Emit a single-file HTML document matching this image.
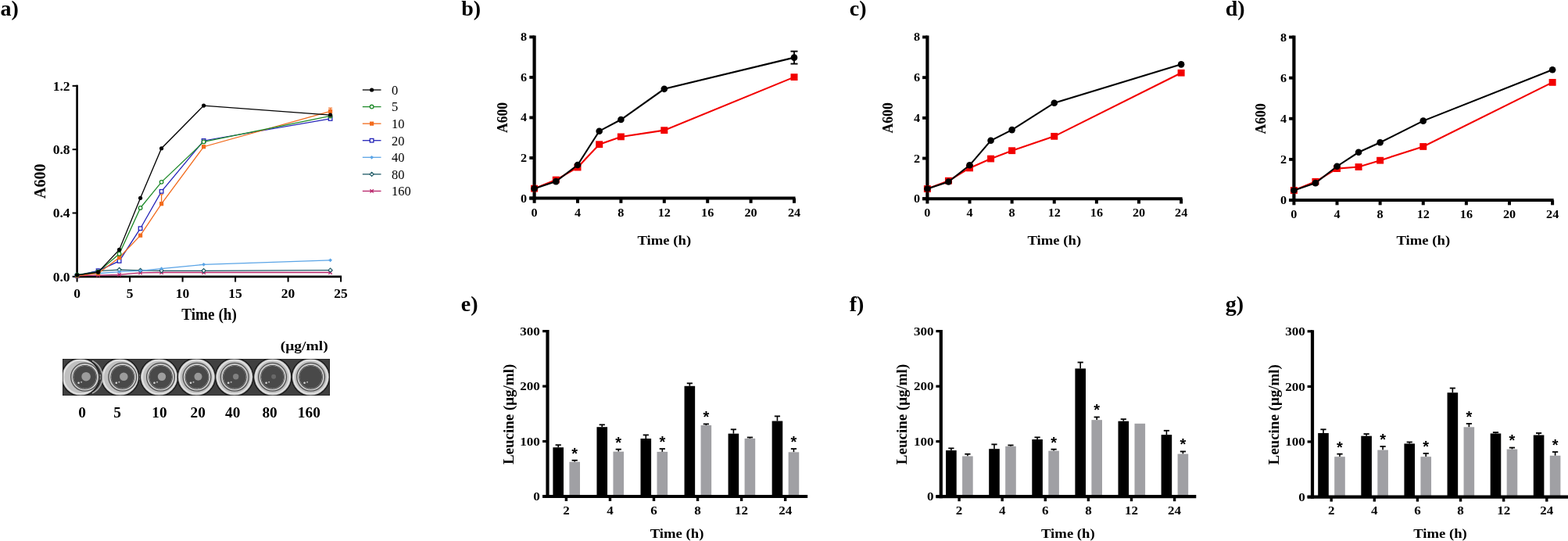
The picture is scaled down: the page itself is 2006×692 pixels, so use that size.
<!DOCTYPE html>
<html><head><meta charset="utf-8"><title>Figure</title>
<style>
html,body{margin:0;padding:0;background:#fff;}
body{width:2006px;height:692px;overflow:hidden;}
svg{display:block;}
text{font-family:'Liberation Serif','Times New Roman',serif;fill:#000;}
</style></head><body>
<svg width="2006" height="692" viewBox="0 0 2006 692">
<rect width="2006" height="692" fill="#fff"/>
<text x="0.50" y="20.30" font-size="28" text-anchor="start" font-weight="bold">a)</text>
<text x="590.30" y="20.30" font-size="28" text-anchor="start" font-weight="bold">b)</text>
<text x="1086.80" y="20.30" font-size="28" text-anchor="start" font-weight="bold">c)</text>
<text x="1567.80" y="20.30" font-size="28" text-anchor="start" font-weight="bold">d)</text>
<text x="589.80" y="397.80" font-size="28" text-anchor="start" font-weight="bold">e)</text>
<text x="1086.80" y="397.80" font-size="28" text-anchor="start" font-weight="bold">f)</text>
<text x="1567.80" y="397.80" font-size="28" text-anchor="start" font-weight="bold">g)</text>
<line x1="98.60" y1="108.69" x2="98.60" y2="355.15" stroke="#000" stroke-width="2.7" stroke-linecap="butt"/>
<line x1="97.25" y1="353.80" x2="437.10" y2="353.80" stroke="#000" stroke-width="2.7" stroke-linecap="butt"/>
<line x1="92.60" y1="353.80" x2="98.60" y2="353.80" stroke="#000" stroke-width="2" stroke-linecap="butt"/>
<text x="89.60" y="359.70" font-size="17.5" text-anchor="end" font-weight="bold">0.0</text>
<line x1="92.60" y1="272.48" x2="98.60" y2="272.48" stroke="#000" stroke-width="2" stroke-linecap="butt"/>
<text x="89.60" y="278.38" font-size="17.5" text-anchor="end" font-weight="bold">0.4</text>
<line x1="92.60" y1="191.16" x2="98.60" y2="191.16" stroke="#000" stroke-width="2" stroke-linecap="butt"/>
<text x="89.60" y="197.06" font-size="17.5" text-anchor="end" font-weight="bold">0.8</text>
<line x1="92.60" y1="109.84" x2="98.60" y2="109.84" stroke="#000" stroke-width="2" stroke-linecap="butt"/>
<text x="89.60" y="115.74" font-size="17.5" text-anchor="end" font-weight="bold">1.2</text>
<line x1="98.60" y1="353.80" x2="98.60" y2="360.60" stroke="#000" stroke-width="2" stroke-linecap="butt"/>
<text x="98.60" y="381.00" font-size="17.5" text-anchor="middle" font-weight="bold">0</text>
<line x1="166.10" y1="353.80" x2="166.10" y2="360.60" stroke="#000" stroke-width="2" stroke-linecap="butt"/>
<text x="166.10" y="381.00" font-size="17.5" text-anchor="middle" font-weight="bold">5</text>
<line x1="233.60" y1="353.80" x2="233.60" y2="360.60" stroke="#000" stroke-width="2" stroke-linecap="butt"/>
<text x="233.60" y="381.00" font-size="17.5" text-anchor="middle" font-weight="bold">10</text>
<line x1="301.10" y1="353.80" x2="301.10" y2="360.60" stroke="#000" stroke-width="2" stroke-linecap="butt"/>
<text x="301.10" y="381.00" font-size="17.5" text-anchor="middle" font-weight="bold">15</text>
<line x1="368.60" y1="353.80" x2="368.60" y2="360.60" stroke="#000" stroke-width="2" stroke-linecap="butt"/>
<text x="368.60" y="381.00" font-size="17.5" text-anchor="middle" font-weight="bold">20</text>
<line x1="436.10" y1="353.80" x2="436.10" y2="360.60" stroke="#000" stroke-width="2" stroke-linecap="butt"/>
<text x="436.10" y="381.00" font-size="17.5" text-anchor="middle" font-weight="bold">25</text>
<text transform="translate(58.00,231.80) rotate(-90)" font-size="20" text-anchor="middle" font-weight="bold">A600</text>
<text transform="translate(267.60,408.80) scale(0.96,1)" font-size="20" text-anchor="middle" font-weight="bold">Time (h)</text>
<polyline points="98.60,352.78 125.60,352.17 152.60,351.36 179.60,348.92 206.60,348.51 260.60,348.51 422.60,348.51" fill="none" stroke="#b8246a" stroke-width="1.3"/>
<path d="M96.40 350.58L100.80 354.98M96.40 354.98L100.80 350.58" stroke="#b8246a" stroke-width="1.3" fill="none"/>
<path d="M123.40 349.97L127.80 354.37M123.40 354.37L127.80 349.97" stroke="#b8246a" stroke-width="1.3" fill="none"/>
<path d="M150.40 349.16L154.80 353.56M150.40 353.56L154.80 349.16" stroke="#b8246a" stroke-width="1.3" fill="none"/>
<path d="M177.40 346.72L181.80 351.12M177.40 351.12L181.80 346.72" stroke="#b8246a" stroke-width="1.3" fill="none"/>
<path d="M204.40 346.31L208.80 350.71M204.40 350.71L208.80 346.31" stroke="#b8246a" stroke-width="1.3" fill="none"/>
<path d="M258.40 346.31L262.80 350.71M258.40 350.71L262.80 346.31" stroke="#b8246a" stroke-width="1.3" fill="none"/>
<path d="M420.40 346.31L424.80 350.71M420.40 350.71L424.80 346.31" stroke="#b8246a" stroke-width="1.3" fill="none"/>
<polyline points="98.60,351.77 125.60,346.68 152.60,345.06 179.60,345.87 206.60,346.28 260.60,346.28 422.60,345.67" fill="none" stroke="#1f5a66" stroke-width="1.3"/>
<path d="M96.00 351.77L98.60 349.17L101.20 351.77L98.60 354.37Z" fill="#fff" stroke="#1f5a66" stroke-width="1.2"/>
<path d="M123.00 346.68L125.60 344.08L128.20 346.68L125.60 349.28Z" fill="#fff" stroke="#1f5a66" stroke-width="1.2"/>
<path d="M150.00 345.06L152.60 342.46L155.20 345.06L152.60 347.66Z" fill="#fff" stroke="#1f5a66" stroke-width="1.2"/>
<path d="M177.00 345.87L179.60 343.27L182.20 345.87L179.60 348.47Z" fill="#fff" stroke="#1f5a66" stroke-width="1.2"/>
<path d="M204.00 346.28L206.60 343.68L209.20 346.28L206.60 348.88Z" fill="#fff" stroke="#1f5a66" stroke-width="1.2"/>
<path d="M258.00 346.28L260.60 343.68L263.20 346.28L260.60 348.88Z" fill="#fff" stroke="#1f5a66" stroke-width="1.2"/>
<path d="M420.00 345.67L422.60 343.07L425.20 345.67L422.60 348.27Z" fill="#fff" stroke="#1f5a66" stroke-width="1.2"/>
<polyline points="98.60,351.77 125.60,349.73 152.60,347.70 179.60,346.28 206.60,343.63 260.60,338.35 422.60,332.86" fill="none" stroke="#5aa4e6" stroke-width="1.3"/>
<path d="M96.20 351.77L98.60 349.37L101.00 351.77L98.60 354.17Z" fill="#5aa4e6"/>
<path d="M123.20 349.73L125.60 347.33L128.00 349.73L125.60 352.13Z" fill="#5aa4e6"/>
<path d="M150.20 347.70L152.60 345.30L155.00 347.70L152.60 350.10Z" fill="#5aa4e6"/>
<path d="M177.20 346.28L179.60 343.88L182.00 346.28L179.60 348.68Z" fill="#5aa4e6"/>
<path d="M204.20 343.63L206.60 341.24L209.00 343.63L206.60 346.03Z" fill="#5aa4e6"/>
<path d="M258.20 338.35L260.60 335.95L263.00 338.35L260.60 340.75Z" fill="#5aa4e6"/>
<path d="M420.20 332.86L422.60 330.46L425.00 332.86L422.60 335.26Z" fill="#5aa4e6"/>
<polyline points="98.60,352.78 125.60,346.28 152.60,333.88 179.60,292.20 206.60,244.83 260.60,179.98 422.60,151.92" fill="none" stroke="#2424b8" stroke-width="1.3"/>
<rect x="96.30" y="350.48" width="4.60" height="4.60" fill="#fff" stroke="#2424b8" stroke-width="1.3"/>
<rect x="123.30" y="343.98" width="4.60" height="4.60" fill="#fff" stroke="#2424b8" stroke-width="1.3"/>
<rect x="150.30" y="331.58" width="4.60" height="4.60" fill="#fff" stroke="#2424b8" stroke-width="1.3"/>
<rect x="177.30" y="289.90" width="4.60" height="4.60" fill="#fff" stroke="#2424b8" stroke-width="1.3"/>
<rect x="204.30" y="242.53" width="4.60" height="4.60" fill="#fff" stroke="#2424b8" stroke-width="1.3"/>
<rect x="258.30" y="177.68" width="4.60" height="4.60" fill="#fff" stroke="#2424b8" stroke-width="1.3"/>
<rect x="420.30" y="149.62" width="4.60" height="4.60" fill="#fff" stroke="#2424b8" stroke-width="1.3"/>
<polyline points="98.60,352.78 125.60,349.73 152.60,329.40 179.60,301.15 206.60,260.69 260.60,187.70 422.60,142.37" fill="none" stroke="#f26b1d" stroke-width="1.3"/>
<line x1="206.60" y1="260.69" x2="206.60" y2="248.80" stroke="#f26b1d" stroke-width="1.3" stroke-linecap="butt"/>
<line x1="204.30" y1="248.80" x2="208.90" y2="248.80" stroke="#f26b1d" stroke-width="1.1" stroke-linecap="butt"/>
<line x1="420.10" y1="138.17" x2="425.10" y2="138.17" stroke="#f26b1d" stroke-width="1.1" stroke-linecap="butt"/>
<line x1="422.60" y1="138.17" x2="422.60" y2="142.37" stroke="#f26b1d" stroke-width="1.1" stroke-linecap="butt"/>
<rect x="96.00" y="350.18" width="5.20" height="5.20" fill="#f26b1d"/>
<rect x="123.00" y="347.13" width="5.20" height="5.20" fill="#f26b1d"/>
<rect x="150.00" y="326.80" width="5.20" height="5.20" fill="#f26b1d"/>
<rect x="177.00" y="298.55" width="5.20" height="5.20" fill="#f26b1d"/>
<rect x="204.00" y="258.09" width="5.20" height="5.20" fill="#f26b1d"/>
<rect x="258.00" y="185.10" width="5.20" height="5.20" fill="#f26b1d"/>
<rect x="420.00" y="139.77" width="5.20" height="5.20" fill="#f26b1d"/>
<polyline points="98.60,351.77 125.60,347.70 152.60,324.73 179.60,265.97 206.60,232.84 260.60,181.40 422.60,148.47" fill="none" stroke="#1f8a2a" stroke-width="1.3"/>
<circle cx="98.60" cy="351.77" r="2.30" fill="#fff" stroke="#1f8a2a" stroke-width="1.3"/>
<circle cx="125.60" cy="347.70" r="2.30" fill="#fff" stroke="#1f8a2a" stroke-width="1.3"/>
<circle cx="152.60" cy="324.73" r="2.30" fill="#fff" stroke="#1f8a2a" stroke-width="1.3"/>
<circle cx="179.60" cy="265.97" r="2.30" fill="#fff" stroke="#1f8a2a" stroke-width="1.3"/>
<circle cx="206.60" cy="232.84" r="2.30" fill="#fff" stroke="#1f8a2a" stroke-width="1.3"/>
<circle cx="260.60" cy="181.40" r="2.30" fill="#fff" stroke="#1f8a2a" stroke-width="1.3"/>
<circle cx="422.60" cy="148.47" r="2.30" fill="#fff" stroke="#1f8a2a" stroke-width="1.3"/>
<polyline points="98.60,351.77 125.60,348.11 152.60,319.44 179.60,253.37 206.60,189.74 260.60,135.05 422.60,147.04" fill="none" stroke="#000000" stroke-width="1.3"/>
<circle cx="98.60" cy="351.77" r="2.60" fill="#000000"/>
<circle cx="125.60" cy="348.11" r="2.60" fill="#000000"/>
<circle cx="152.60" cy="319.44" r="2.60" fill="#000000"/>
<circle cx="179.60" cy="253.37" r="2.60" fill="#000000"/>
<circle cx="206.60" cy="189.74" r="2.60" fill="#000000"/>
<circle cx="260.60" cy="135.05" r="2.60" fill="#000000"/>
<circle cx="422.60" cy="147.04" r="2.60" fill="#000000"/>
<line x1="463.80" y1="115.00" x2="487.50" y2="115.00" stroke="#000000" stroke-width="1.3" stroke-linecap="butt"/>
<circle cx="475.60" cy="115.00" r="2.60" fill="#000000"/>
<text x="501.00" y="120.90" font-size="16.5" text-anchor="start" font-weight="normal">0</text>
<line x1="463.80" y1="136.57" x2="487.50" y2="136.57" stroke="#1f8a2a" stroke-width="1.3" stroke-linecap="butt"/>
<circle cx="475.60" cy="136.57" r="2.30" fill="#fff" stroke="#1f8a2a" stroke-width="1.3"/>
<text x="501.00" y="142.47" font-size="16.5" text-anchor="start" font-weight="normal">5</text>
<line x1="463.80" y1="158.14" x2="487.50" y2="158.14" stroke="#f26b1d" stroke-width="1.3" stroke-linecap="butt"/>
<rect x="473.00" y="155.54" width="5.20" height="5.20" fill="#f26b1d"/>
<text x="501.00" y="164.04" font-size="16.5" text-anchor="start" font-weight="normal">10</text>
<line x1="463.80" y1="179.71" x2="487.50" y2="179.71" stroke="#2424b8" stroke-width="1.3" stroke-linecap="butt"/>
<rect x="473.30" y="177.41" width="4.60" height="4.60" fill="#fff" stroke="#2424b8" stroke-width="1.3"/>
<text x="501.00" y="185.61" font-size="16.5" text-anchor="start" font-weight="normal">20</text>
<line x1="463.80" y1="201.28" x2="487.50" y2="201.28" stroke="#5aa4e6" stroke-width="1.3" stroke-linecap="butt"/>
<path d="M473.20 201.28L475.60 198.88L478.00 201.28L475.60 203.68Z" fill="#5aa4e6"/>
<text x="501.00" y="207.18" font-size="16.5" text-anchor="start" font-weight="normal">40</text>
<line x1="463.80" y1="222.85" x2="487.50" y2="222.85" stroke="#1f5a66" stroke-width="1.3" stroke-linecap="butt"/>
<path d="M473.00 222.85L475.60 220.25L478.20 222.85L475.60 225.45Z" fill="#fff" stroke="#1f5a66" stroke-width="1.2"/>
<text x="501.00" y="228.75" font-size="16.5" text-anchor="start" font-weight="normal">80</text>
<line x1="463.80" y1="244.42" x2="487.50" y2="244.42" stroke="#b8246a" stroke-width="1.3" stroke-linecap="butt"/>
<path d="M473.40 242.22L477.80 246.62M473.40 246.62L477.80 242.22" stroke="#b8246a" stroke-width="1.3" fill="none"/>
<text x="501.00" y="250.32" font-size="16.5" text-anchor="start" font-weight="normal">160</text>
<defs><filter id="pb" x="-5%" y="-20%" width="110%" height="140%"><feGaussianBlur stdDeviation="0.55"/></filter><clipPath id="pc"><rect x="80.6" y="459.6" width="340.8" height="45.8"/></clipPath></defs>
<rect x="80" y="459" width="342" height="47" fill="#111"/>
<g clip-path="url(#pc)" filter="url(#pb)">
<rect x="80" y="459" width="342" height="47" fill="#404040"/>
<rect x="123.0" y="479.1" width="10.6" height="6.4" fill="#b0b0b0"/>
<rect x="173.6" y="479.1" width="10.0" height="6.4" fill="#b0b0b0"/>
<rect x="223.6" y="479.1" width="7.7" height="6.4" fill="#b0b0b0"/>
<rect x="271.3" y="479.1" width="8.5" height="6.4" fill="#b0b0b0"/>
<rect x="319.8" y="479.1" width="9.0" height="6.4" fill="#b0b0b0"/>
<rect x="368.8" y="479.1" width="8.6" height="6.4" fill="#b0b0b0"/>
<circle cx="103.0" cy="482.3" r="24.2" fill="none" stroke="#1a1a1a" stroke-width="1.4"/>
<circle cx="103.0" cy="482.3" r="23.4" fill="#c0c0c0"/>
<circle cx="103.0" cy="482.3" r="21.6" fill="none" stroke="#e2e2e2" stroke-width="1.8"/>
<circle cx="108.6" cy="482.3" r="17.9" fill="none" stroke="#505050" stroke-width="1.3"/>
<circle cx="108.6" cy="482.3" r="16.5" fill="#cdcdcd"/>
<circle cx="108.6" cy="482.3" r="15.4" fill="#3e3e3e"/>
<circle cx="108.6" cy="482.3" r="14.5" fill="none" stroke="#8a8a8a" stroke-width="0.8"/>
<circle cx="108.6" cy="482.3" r="13.8" fill="#484848"/>
<circle cx="110.1" cy="481.7" r="5.8" fill="#9c9c9c"/>
<circle cx="100.6" cy="489.8" r="1.3" fill="#d8d8d8"/>
<circle cx="104.1" cy="488.8" r="1.0" fill="#b8b8b8"/>
<circle cx="153.6" cy="482.3" r="24.2" fill="none" stroke="#1a1a1a" stroke-width="1.4"/>
<circle cx="153.6" cy="482.3" r="23.4" fill="#c0c0c0"/>
<circle cx="153.6" cy="482.3" r="21.6" fill="none" stroke="#e2e2e2" stroke-width="1.8"/>
<circle cx="156.8" cy="482.3" r="17.9" fill="none" stroke="#505050" stroke-width="1.3"/>
<circle cx="156.8" cy="482.3" r="16.5" fill="#cdcdcd"/>
<circle cx="156.8" cy="482.3" r="15.4" fill="#3e3e3e"/>
<circle cx="156.8" cy="482.3" r="14.5" fill="none" stroke="#8a8a8a" stroke-width="0.8"/>
<circle cx="156.8" cy="482.3" r="13.8" fill="#484848"/>
<circle cx="158.3" cy="481.7" r="5.3" fill="#9c9c9c"/>
<circle cx="148.8" cy="489.8" r="1.3" fill="#d8d8d8"/>
<circle cx="152.3" cy="488.8" r="1.0" fill="#b8b8b8"/>
<circle cx="203.6" cy="482.3" r="24.2" fill="none" stroke="#1a1a1a" stroke-width="1.4"/>
<circle cx="203.6" cy="482.3" r="23.4" fill="#c0c0c0"/>
<circle cx="203.6" cy="482.3" r="21.6" fill="none" stroke="#e2e2e2" stroke-width="1.8"/>
<circle cx="205.5" cy="482.3" r="17.9" fill="none" stroke="#505050" stroke-width="1.3"/>
<circle cx="205.5" cy="482.3" r="16.5" fill="#cdcdcd"/>
<circle cx="205.5" cy="482.3" r="15.4" fill="#3e3e3e"/>
<circle cx="205.5" cy="482.3" r="14.5" fill="none" stroke="#8a8a8a" stroke-width="0.8"/>
<circle cx="205.5" cy="482.3" r="13.8" fill="#484848"/>
<circle cx="207.0" cy="481.7" r="5.2" fill="#9e9e9e"/>
<circle cx="197.5" cy="489.8" r="1.3" fill="#d8d8d8"/>
<circle cx="201.0" cy="488.8" r="1.0" fill="#b8b8b8"/>
<circle cx="251.3" cy="482.3" r="24.2" fill="none" stroke="#1a1a1a" stroke-width="1.4"/>
<circle cx="251.3" cy="482.3" r="23.4" fill="#c0c0c0"/>
<circle cx="251.3" cy="482.3" r="21.6" fill="none" stroke="#e2e2e2" stroke-width="1.8"/>
<circle cx="252.0" cy="482.3" r="17.9" fill="none" stroke="#505050" stroke-width="1.3"/>
<circle cx="252.0" cy="482.3" r="16.5" fill="#cdcdcd"/>
<circle cx="252.0" cy="482.3" r="15.4" fill="#3e3e3e"/>
<circle cx="252.0" cy="482.3" r="14.5" fill="none" stroke="#8a8a8a" stroke-width="0.8"/>
<circle cx="252.0" cy="482.3" r="13.8" fill="#484848"/>
<circle cx="253.5" cy="481.7" r="5.0" fill="#989898"/>
<circle cx="244.0" cy="489.8" r="1.3" fill="#d8d8d8"/>
<circle cx="247.5" cy="488.8" r="1.0" fill="#b8b8b8"/>
<circle cx="299.8" cy="482.3" r="24.2" fill="none" stroke="#1a1a1a" stroke-width="1.4"/>
<circle cx="299.8" cy="482.3" r="23.4" fill="#c0c0c0"/>
<circle cx="299.8" cy="482.3" r="21.6" fill="none" stroke="#e2e2e2" stroke-width="1.8"/>
<circle cx="300.2" cy="482.3" r="17.9" fill="none" stroke="#505050" stroke-width="1.3"/>
<circle cx="300.2" cy="482.3" r="16.5" fill="#cdcdcd"/>
<circle cx="300.2" cy="482.3" r="15.4" fill="#3e3e3e"/>
<circle cx="300.2" cy="482.3" r="14.5" fill="none" stroke="#8a8a8a" stroke-width="0.8"/>
<circle cx="300.2" cy="482.3" r="13.8" fill="#484848"/>
<circle cx="301.7" cy="481.7" r="3.7" fill="#808080"/>
<circle cx="292.2" cy="489.8" r="1.3" fill="#d8d8d8"/>
<circle cx="295.7" cy="488.8" r="1.0" fill="#b8b8b8"/>
<circle cx="348.8" cy="482.3" r="24.2" fill="none" stroke="#1a1a1a" stroke-width="1.4"/>
<circle cx="348.8" cy="482.3" r="23.4" fill="#c0c0c0"/>
<circle cx="348.8" cy="482.3" r="21.6" fill="none" stroke="#e2e2e2" stroke-width="1.8"/>
<circle cx="348.6" cy="482.3" r="17.9" fill="none" stroke="#505050" stroke-width="1.3"/>
<circle cx="348.6" cy="482.3" r="16.5" fill="#cdcdcd"/>
<circle cx="348.6" cy="482.3" r="15.4" fill="#3e3e3e"/>
<circle cx="348.6" cy="482.3" r="14.5" fill="none" stroke="#8a8a8a" stroke-width="0.8"/>
<circle cx="348.6" cy="482.3" r="13.8" fill="#484848"/>
<circle cx="350.1" cy="481.7" r="3.0" fill="#686868"/>
<circle cx="340.6" cy="489.8" r="1.3" fill="#d8d8d8"/>
<circle cx="344.1" cy="488.8" r="1.0" fill="#b8b8b8"/>
<circle cx="397.4" cy="482.3" r="24.2" fill="none" stroke="#1a1a1a" stroke-width="1.4"/>
<circle cx="397.4" cy="482.3" r="23.4" fill="#c0c0c0"/>
<circle cx="397.4" cy="482.3" r="21.6" fill="none" stroke="#e2e2e2" stroke-width="1.8"/>
<circle cx="397.6" cy="482.3" r="17.9" fill="none" stroke="#505050" stroke-width="1.3"/>
<circle cx="397.6" cy="482.3" r="16.5" fill="#cdcdcd"/>
<circle cx="397.6" cy="482.3" r="15.4" fill="#3e3e3e"/>
<circle cx="397.6" cy="482.3" r="14.5" fill="none" stroke="#8a8a8a" stroke-width="0.8"/>
<circle cx="397.6" cy="482.3" r="13.8" fill="#484848"/>
<circle cx="389.6" cy="489.8" r="1.3" fill="#d8d8d8"/>
<circle cx="393.1" cy="488.8" r="1.0" fill="#b8b8b8"/>
<path d="M 118 461.5 A 23 23 0 0 1 118 503" fill="none" stroke="#a8a8a8" stroke-width="1.6"/>
</g>
<text transform="translate(389.20,448.30) scale(1.12,1)" font-size="17.5" text-anchor="middle" font-weight="bold">(&#956;g/ml)</text>
<text transform="translate(105.00,533.70) scale(1.04,1)" font-size="18.6" text-anchor="middle" font-weight="bold">0</text>
<text transform="translate(150.00,533.70) scale(1.04,1)" font-size="18.6" text-anchor="middle" font-weight="bold">5</text>
<text transform="translate(204.00,533.70) scale(1.04,1)" font-size="18.6" text-anchor="middle" font-weight="bold">10</text>
<text transform="translate(253.20,533.70) scale(1.04,1)" font-size="18.6" text-anchor="middle" font-weight="bold">20</text>
<text transform="translate(297.70,533.70) scale(1.04,1)" font-size="18.6" text-anchor="middle" font-weight="bold">40</text>
<text transform="translate(345.10,533.70) scale(1.04,1)" font-size="18.6" text-anchor="middle" font-weight="bold">80</text>
<text transform="translate(395.30,533.70) scale(1.04,1)" font-size="18.6" text-anchor="middle" font-weight="bold">160</text>
<line x1="683.60" y1="45.44" x2="683.60" y2="255.60" stroke="#000" stroke-width="4.2" stroke-linecap="butt"/>
<line x1="677.30" y1="253.50" x2="1017.50" y2="253.50" stroke="#000" stroke-width="3.9" stroke-linecap="butt"/>
<line x1="677.30" y1="253.50" x2="683.60" y2="253.50" stroke="#000" stroke-width="3.9" stroke-linecap="butt"/>
<text transform="translate(674.20,258.50) scale(1.08,1)" font-size="15" text-anchor="end" font-weight="bold">0</text>
<line x1="677.30" y1="201.96" x2="683.60" y2="201.96" stroke="#000" stroke-width="3.9" stroke-linecap="butt"/>
<text transform="translate(674.20,206.96) scale(1.08,1)" font-size="15" text-anchor="end" font-weight="bold">2</text>
<line x1="677.30" y1="150.42" x2="683.60" y2="150.42" stroke="#000" stroke-width="3.9" stroke-linecap="butt"/>
<text transform="translate(674.20,155.42) scale(1.08,1)" font-size="15" text-anchor="end" font-weight="bold">4</text>
<line x1="677.30" y1="98.88" x2="683.60" y2="98.88" stroke="#000" stroke-width="3.9" stroke-linecap="butt"/>
<text transform="translate(674.20,103.88) scale(1.08,1)" font-size="15" text-anchor="end" font-weight="bold">6</text>
<line x1="677.30" y1="47.34" x2="683.60" y2="47.34" stroke="#000" stroke-width="3.9" stroke-linecap="butt"/>
<text transform="translate(674.20,52.34) scale(1.08,1)" font-size="15" text-anchor="end" font-weight="bold">8</text>
<line x1="683.60" y1="253.50" x2="683.60" y2="259.80" stroke="#000" stroke-width="4.0" stroke-linecap="butt"/>
<text transform="translate(683.60,276.50) scale(1.08,1)" font-size="15" text-anchor="middle" font-weight="bold">0</text>
<line x1="739.00" y1="253.50" x2="739.00" y2="259.80" stroke="#000" stroke-width="4.0" stroke-linecap="butt"/>
<text transform="translate(739.00,276.50) scale(1.08,1)" font-size="15" text-anchor="middle" font-weight="bold">4</text>
<line x1="794.40" y1="253.50" x2="794.40" y2="259.80" stroke="#000" stroke-width="4.0" stroke-linecap="butt"/>
<text transform="translate(794.40,276.50) scale(1.08,1)" font-size="15" text-anchor="middle" font-weight="bold">8</text>
<line x1="849.80" y1="253.50" x2="849.80" y2="259.80" stroke="#000" stroke-width="4.0" stroke-linecap="butt"/>
<text transform="translate(849.80,276.50) scale(1.08,1)" font-size="15" text-anchor="middle" font-weight="bold">12</text>
<line x1="905.20" y1="253.50" x2="905.20" y2="259.80" stroke="#000" stroke-width="4.0" stroke-linecap="butt"/>
<text transform="translate(905.20,276.50) scale(1.08,1)" font-size="15" text-anchor="middle" font-weight="bold">16</text>
<line x1="960.60" y1="253.50" x2="960.60" y2="259.80" stroke="#000" stroke-width="4.0" stroke-linecap="butt"/>
<text transform="translate(960.60,276.50) scale(1.08,1)" font-size="15" text-anchor="middle" font-weight="bold">20</text>
<line x1="1016.00" y1="253.50" x2="1016.00" y2="259.80" stroke="#000" stroke-width="4.0" stroke-linecap="butt"/>
<text transform="translate(1016.00,276.50) scale(1.08,1)" font-size="15" text-anchor="middle" font-weight="bold">24</text>
<text transform="translate(649.00,150.50) rotate(-90) scale(0.95,1)" font-size="18.6" text-anchor="middle" font-weight="bold">A600</text>
<text transform="translate(849.80,313.40) scale(1.1,1)" font-size="17" text-anchor="middle" font-weight="bold">Time (h)</text>
<polyline points="683.60,241.13 711.30,230.05 739.00,214.07 766.70,184.69 794.40,174.90 849.80,166.66 1016.00,98.62" fill="none" stroke="#f20000" stroke-width="2.1"/>
<rect x="679.10" y="236.73" width="9.00" height="8.80" fill="#f20000"/>
<rect x="706.80" y="225.65" width="9.00" height="8.80" fill="#f20000"/>
<rect x="734.50" y="209.67" width="9.00" height="8.80" fill="#f20000"/>
<rect x="762.20" y="180.29" width="9.00" height="8.80" fill="#f20000"/>
<rect x="789.90" y="170.50" width="9.00" height="8.80" fill="#f20000"/>
<rect x="845.30" y="162.26" width="9.00" height="8.80" fill="#f20000"/>
<rect x="1011.50" y="94.22" width="9.00" height="8.80" fill="#f20000"/>
<polyline points="683.60,241.13 711.30,232.11 739.00,210.98 766.70,167.69 794.40,153.00 849.80,113.83 1016.00,73.63" fill="none" stroke="#000" stroke-width="2.1"/>
<line x1="1016.00" y1="65.64" x2="1016.00" y2="81.61" stroke="#000" stroke-width="1.8" stroke-linecap="butt"/>
<line x1="1011.50" y1="65.64" x2="1020.50" y2="65.64" stroke="#000" stroke-width="1.9" stroke-linecap="butt"/>
<line x1="1011.50" y1="81.61" x2="1020.50" y2="81.61" stroke="#000" stroke-width="1.9" stroke-linecap="butt"/>
<circle cx="683.60" cy="241.13" r="4.3" fill="#000"/>
<circle cx="711.30" cy="232.11" r="4.3" fill="#000"/>
<circle cx="739.00" cy="210.98" r="4.3" fill="#000"/>
<circle cx="766.70" cy="167.69" r="4.3" fill="#000"/>
<circle cx="794.40" cy="153.00" r="4.3" fill="#000"/>
<circle cx="849.80" cy="113.83" r="4.3" fill="#000"/>
<circle cx="1016.00" cy="73.63" r="4.3" fill="#000"/>
<line x1="1186.40" y1="45.58" x2="1186.40" y2="256.30" stroke="#000" stroke-width="4.2" stroke-linecap="butt"/>
<line x1="1180.10" y1="254.20" x2="1512.62" y2="254.20" stroke="#000" stroke-width="3.9" stroke-linecap="butt"/>
<line x1="1180.10" y1="254.20" x2="1186.40" y2="254.20" stroke="#000" stroke-width="3.9" stroke-linecap="butt"/>
<text transform="translate(1177.00,259.20) scale(1.08,1)" font-size="15" text-anchor="end" font-weight="bold">0</text>
<line x1="1180.10" y1="202.52" x2="1186.40" y2="202.52" stroke="#000" stroke-width="3.9" stroke-linecap="butt"/>
<text transform="translate(1177.00,207.52) scale(1.08,1)" font-size="15" text-anchor="end" font-weight="bold">2</text>
<line x1="1180.10" y1="150.84" x2="1186.40" y2="150.84" stroke="#000" stroke-width="3.9" stroke-linecap="butt"/>
<text transform="translate(1177.00,155.84) scale(1.08,1)" font-size="15" text-anchor="end" font-weight="bold">4</text>
<line x1="1180.10" y1="99.16" x2="1186.40" y2="99.16" stroke="#000" stroke-width="3.9" stroke-linecap="butt"/>
<text transform="translate(1177.00,104.16) scale(1.08,1)" font-size="15" text-anchor="end" font-weight="bold">6</text>
<line x1="1180.10" y1="47.48" x2="1186.40" y2="47.48" stroke="#000" stroke-width="3.9" stroke-linecap="butt"/>
<text transform="translate(1177.00,52.48) scale(1.08,1)" font-size="15" text-anchor="end" font-weight="bold">8</text>
<line x1="1186.40" y1="254.20" x2="1186.40" y2="260.50" stroke="#000" stroke-width="4.0" stroke-linecap="butt"/>
<text transform="translate(1186.40,277.20) scale(1.08,1)" font-size="15" text-anchor="middle" font-weight="bold">0</text>
<line x1="1240.52" y1="254.20" x2="1240.52" y2="260.50" stroke="#000" stroke-width="4.0" stroke-linecap="butt"/>
<text transform="translate(1240.52,277.20) scale(1.08,1)" font-size="15" text-anchor="middle" font-weight="bold">4</text>
<line x1="1294.64" y1="254.20" x2="1294.64" y2="260.50" stroke="#000" stroke-width="4.0" stroke-linecap="butt"/>
<text transform="translate(1294.64,277.20) scale(1.08,1)" font-size="15" text-anchor="middle" font-weight="bold">8</text>
<line x1="1348.76" y1="254.20" x2="1348.76" y2="260.50" stroke="#000" stroke-width="4.0" stroke-linecap="butt"/>
<text transform="translate(1348.76,277.20) scale(1.08,1)" font-size="15" text-anchor="middle" font-weight="bold">12</text>
<line x1="1402.88" y1="254.20" x2="1402.88" y2="260.50" stroke="#000" stroke-width="4.0" stroke-linecap="butt"/>
<text transform="translate(1402.88,277.20) scale(1.08,1)" font-size="15" text-anchor="middle" font-weight="bold">16</text>
<line x1="1457.00" y1="254.20" x2="1457.00" y2="260.50" stroke="#000" stroke-width="4.0" stroke-linecap="butt"/>
<text transform="translate(1457.00,277.20) scale(1.08,1)" font-size="15" text-anchor="middle" font-weight="bold">20</text>
<line x1="1511.12" y1="254.20" x2="1511.12" y2="260.50" stroke="#000" stroke-width="4.0" stroke-linecap="butt"/>
<text transform="translate(1511.12,277.20) scale(1.08,1)" font-size="15" text-anchor="middle" font-weight="bold">24</text>
<text transform="translate(1142.40,150.90) rotate(-90) scale(0.95,1)" font-size="18.6" text-anchor="middle" font-weight="bold">A600</text>
<text transform="translate(1348.76,313.40) scale(1.1,1)" font-size="17" text-anchor="middle" font-weight="bold">Time (h)</text>
<polyline points="1186.40,241.54 1213.46,231.20 1240.52,214.92 1267.58,203.04 1294.64,192.70 1348.76,174.35 1511.12,93.22" fill="none" stroke="#f20000" stroke-width="2.1"/>
<rect x="1181.90" y="237.14" width="9.00" height="8.80" fill="#f20000"/>
<rect x="1208.96" y="226.80" width="9.00" height="8.80" fill="#f20000"/>
<rect x="1236.02" y="210.52" width="9.00" height="8.80" fill="#f20000"/>
<rect x="1263.08" y="198.64" width="9.00" height="8.80" fill="#f20000"/>
<rect x="1290.14" y="188.30" width="9.00" height="8.80" fill="#f20000"/>
<rect x="1344.26" y="169.95" width="9.00" height="8.80" fill="#f20000"/>
<rect x="1506.62" y="88.82" width="9.00" height="8.80" fill="#f20000"/>
<polyline points="1186.40,241.54 1213.46,232.49 1240.52,211.31 1267.58,179.78 1294.64,166.09 1348.76,131.72 1511.12,82.36" fill="none" stroke="#000" stroke-width="2.1"/>
<circle cx="1186.40" cy="241.54" r="4.3" fill="#000"/>
<circle cx="1213.46" cy="232.49" r="4.3" fill="#000"/>
<circle cx="1240.52" cy="211.31" r="4.3" fill="#000"/>
<circle cx="1267.58" cy="179.78" r="4.3" fill="#000"/>
<circle cx="1294.64" cy="166.09" r="4.3" fill="#000"/>
<circle cx="1348.76" cy="131.72" r="4.3" fill="#000"/>
<circle cx="1511.12" cy="82.36" r="4.3" fill="#000"/>
<line x1="1655.40" y1="45.62" x2="1655.40" y2="258.10" stroke="#000" stroke-width="4.2" stroke-linecap="butt"/>
<line x1="1649.10" y1="256.00" x2="1987.62" y2="256.00" stroke="#000" stroke-width="3.9" stroke-linecap="butt"/>
<line x1="1649.10" y1="256.00" x2="1655.40" y2="256.00" stroke="#000" stroke-width="3.9" stroke-linecap="butt"/>
<text transform="translate(1646.00,261.00) scale(1.08,1)" font-size="15" text-anchor="end" font-weight="bold">0</text>
<line x1="1649.10" y1="203.88" x2="1655.40" y2="203.88" stroke="#000" stroke-width="3.9" stroke-linecap="butt"/>
<text transform="translate(1646.00,208.88) scale(1.08,1)" font-size="15" text-anchor="end" font-weight="bold">2</text>
<line x1="1649.10" y1="151.76" x2="1655.40" y2="151.76" stroke="#000" stroke-width="3.9" stroke-linecap="butt"/>
<text transform="translate(1646.00,156.76) scale(1.08,1)" font-size="15" text-anchor="end" font-weight="bold">4</text>
<line x1="1649.10" y1="99.64" x2="1655.40" y2="99.64" stroke="#000" stroke-width="3.9" stroke-linecap="butt"/>
<text transform="translate(1646.00,104.64) scale(1.08,1)" font-size="15" text-anchor="end" font-weight="bold">6</text>
<line x1="1649.10" y1="47.52" x2="1655.40" y2="47.52" stroke="#000" stroke-width="3.9" stroke-linecap="butt"/>
<text transform="translate(1646.00,52.52) scale(1.08,1)" font-size="15" text-anchor="end" font-weight="bold">8</text>
<line x1="1655.40" y1="256.00" x2="1655.40" y2="262.30" stroke="#000" stroke-width="4.0" stroke-linecap="butt"/>
<text transform="translate(1655.40,279.00) scale(1.08,1)" font-size="15" text-anchor="middle" font-weight="bold">0</text>
<line x1="1710.52" y1="256.00" x2="1710.52" y2="262.30" stroke="#000" stroke-width="4.0" stroke-linecap="butt"/>
<text transform="translate(1710.52,279.00) scale(1.08,1)" font-size="15" text-anchor="middle" font-weight="bold">4</text>
<line x1="1765.64" y1="256.00" x2="1765.64" y2="262.30" stroke="#000" stroke-width="4.0" stroke-linecap="butt"/>
<text transform="translate(1765.64,279.00) scale(1.08,1)" font-size="15" text-anchor="middle" font-weight="bold">8</text>
<line x1="1820.76" y1="256.00" x2="1820.76" y2="262.30" stroke="#000" stroke-width="4.0" stroke-linecap="butt"/>
<text transform="translate(1820.76,279.00) scale(1.08,1)" font-size="15" text-anchor="middle" font-weight="bold">12</text>
<line x1="1875.88" y1="256.00" x2="1875.88" y2="262.30" stroke="#000" stroke-width="4.0" stroke-linecap="butt"/>
<text transform="translate(1875.88,279.00) scale(1.08,1)" font-size="15" text-anchor="middle" font-weight="bold">16</text>
<line x1="1931.00" y1="256.00" x2="1931.00" y2="262.30" stroke="#000" stroke-width="4.0" stroke-linecap="butt"/>
<text transform="translate(1931.00,279.00) scale(1.08,1)" font-size="15" text-anchor="middle" font-weight="bold">20</text>
<line x1="1986.12" y1="256.00" x2="1986.12" y2="262.30" stroke="#000" stroke-width="4.0" stroke-linecap="butt"/>
<text transform="translate(1986.12,279.00) scale(1.08,1)" font-size="15" text-anchor="middle" font-weight="bold">24</text>
<text transform="translate(1618.70,151.85) rotate(-90) scale(0.95,1)" font-size="18.6" text-anchor="middle" font-weight="bold">A600</text>
<text transform="translate(1820.76,313.40) scale(1.1,1)" font-size="17" text-anchor="middle" font-weight="bold">Time (h)</text>
<polyline points="1655.40,243.49 1682.96,232.29 1710.52,215.61 1738.08,213.52 1765.64,205.18 1820.76,187.46 1986.12,105.37" fill="none" stroke="#f20000" stroke-width="2.1"/>
<rect x="1650.90" y="239.09" width="9.00" height="8.80" fill="#f20000"/>
<rect x="1678.46" y="227.89" width="9.00" height="8.80" fill="#f20000"/>
<rect x="1706.02" y="211.21" width="9.00" height="8.80" fill="#f20000"/>
<rect x="1733.58" y="209.12" width="9.00" height="8.80" fill="#f20000"/>
<rect x="1761.14" y="200.78" width="9.00" height="8.80" fill="#f20000"/>
<rect x="1816.26" y="183.06" width="9.00" height="8.80" fill="#f20000"/>
<rect x="1981.62" y="100.97" width="9.00" height="8.80" fill="#f20000"/>
<polyline points="1655.40,243.49 1682.96,234.11 1710.52,212.74 1738.08,194.76 1765.64,182.25 1820.76,154.63 1986.12,89.22" fill="none" stroke="#000" stroke-width="2.1"/>
<circle cx="1655.40" cy="243.49" r="4.3" fill="#000"/>
<circle cx="1682.96" cy="234.11" r="4.3" fill="#000"/>
<circle cx="1710.52" cy="212.74" r="4.3" fill="#000"/>
<circle cx="1738.08" cy="194.76" r="4.3" fill="#000"/>
<circle cx="1765.64" cy="182.25" r="4.3" fill="#000"/>
<circle cx="1820.76" cy="154.63" r="4.3" fill="#000"/>
<circle cx="1986.12" cy="89.22" r="4.3" fill="#000"/>
<line x1="714.20" y1="569.20" x2="714.20" y2="572.28" stroke="#000" stroke-width="1.6" stroke-linecap="butt"/>
<line x1="710.60" y1="569.20" x2="717.80" y2="569.20" stroke="#000" stroke-width="1.8" stroke-linecap="butt"/>
<rect x="707.40" y="572.28" width="13.60" height="62.72" fill="#000"/>
<line x1="735.20" y1="588.80" x2="735.20" y2="590.82" stroke="#000" stroke-width="1.6" stroke-linecap="butt"/>
<line x1="731.60" y1="588.80" x2="738.80" y2="588.80" stroke="#000" stroke-width="1.8" stroke-linecap="butt"/>
<rect x="728.40" y="590.82" width="13.60" height="44.18" fill="#a0a0a4"/>
<text x="735.20" y="586.60" font-size="20" text-anchor="middle" font-weight="bold" style="font-family:'Liberation Sans',sans-serif">*</text>
<line x1="770.25" y1="543.30" x2="770.25" y2="546.21" stroke="#000" stroke-width="1.6" stroke-linecap="butt"/>
<line x1="766.65" y1="543.30" x2="773.85" y2="543.30" stroke="#000" stroke-width="1.8" stroke-linecap="butt"/>
<rect x="763.45" y="546.21" width="13.60" height="88.79" fill="#000"/>
<line x1="791.25" y1="574.70" x2="791.25" y2="577.64" stroke="#000" stroke-width="1.6" stroke-linecap="butt"/>
<line x1="787.65" y1="574.70" x2="794.85" y2="574.70" stroke="#000" stroke-width="1.8" stroke-linecap="butt"/>
<rect x="784.45" y="577.64" width="13.60" height="57.36" fill="#a0a0a4"/>
<text x="791.25" y="572.50" font-size="20" text-anchor="middle" font-weight="bold" style="font-family:'Liberation Sans',sans-serif">*</text>
<line x1="826.30" y1="556.40" x2="826.30" y2="561.01" stroke="#000" stroke-width="1.6" stroke-linecap="butt"/>
<line x1="822.70" y1="556.40" x2="829.90" y2="556.40" stroke="#000" stroke-width="1.8" stroke-linecap="butt"/>
<rect x="819.50" y="561.01" width="13.60" height="73.99" fill="#000"/>
<line x1="847.30" y1="574.10" x2="847.30" y2="577.92" stroke="#000" stroke-width="1.6" stroke-linecap="butt"/>
<line x1="843.70" y1="574.10" x2="850.90" y2="574.10" stroke="#000" stroke-width="1.8" stroke-linecap="butt"/>
<rect x="840.50" y="577.92" width="13.60" height="57.08" fill="#a0a0a4"/>
<text x="847.30" y="571.90" font-size="20" text-anchor="middle" font-weight="bold" style="font-family:'Liberation Sans',sans-serif">*</text>
<line x1="882.35" y1="490.30" x2="882.35" y2="493.78" stroke="#000" stroke-width="1.6" stroke-linecap="butt"/>
<line x1="878.75" y1="490.30" x2="885.95" y2="490.30" stroke="#000" stroke-width="1.8" stroke-linecap="butt"/>
<rect x="875.55" y="493.78" width="13.60" height="141.22" fill="#000"/>
<line x1="903.35" y1="542.40" x2="903.35" y2="543.96" stroke="#000" stroke-width="1.6" stroke-linecap="butt"/>
<line x1="899.75" y1="542.40" x2="906.95" y2="542.40" stroke="#000" stroke-width="1.8" stroke-linecap="butt"/>
<rect x="896.55" y="543.96" width="13.60" height="91.04" fill="#a0a0a4"/>
<text x="903.35" y="540.20" font-size="20" text-anchor="middle" font-weight="bold" style="font-family:'Liberation Sans',sans-serif">*</text>
<line x1="938.40" y1="549.30" x2="938.40" y2="554.67" stroke="#000" stroke-width="1.6" stroke-linecap="butt"/>
<line x1="934.80" y1="549.30" x2="942.00" y2="549.30" stroke="#000" stroke-width="1.8" stroke-linecap="butt"/>
<rect x="931.60" y="554.67" width="13.60" height="80.33" fill="#000"/>
<line x1="959.40" y1="559.50" x2="959.40" y2="560.87" stroke="#000" stroke-width="1.6" stroke-linecap="butt"/>
<line x1="955.80" y1="559.50" x2="963.00" y2="559.50" stroke="#000" stroke-width="1.8" stroke-linecap="butt"/>
<rect x="952.60" y="560.87" width="13.60" height="74.13" fill="#a0a0a4"/>
<line x1="994.45" y1="532.40" x2="994.45" y2="538.53" stroke="#000" stroke-width="1.6" stroke-linecap="butt"/>
<line x1="990.85" y1="532.40" x2="998.05" y2="532.40" stroke="#000" stroke-width="1.8" stroke-linecap="butt"/>
<rect x="987.65" y="538.53" width="13.60" height="96.47" fill="#000"/>
<line x1="1015.45" y1="574.10" x2="1015.45" y2="578.34" stroke="#000" stroke-width="1.6" stroke-linecap="butt"/>
<line x1="1011.85" y1="574.10" x2="1019.05" y2="574.10" stroke="#000" stroke-width="1.8" stroke-linecap="butt"/>
<rect x="1008.65" y="578.34" width="13.60" height="56.66" fill="#a0a0a4"/>
<text x="1015.45" y="571.90" font-size="20" text-anchor="middle" font-weight="bold" style="font-family:'Liberation Sans',sans-serif">*</text>
<line x1="700.50" y1="422.00" x2="700.50" y2="637.10" stroke="#000" stroke-width="4.2" stroke-linecap="butt"/>
<line x1="694.10" y1="635.00" x2="1033.20" y2="635.00" stroke="#000" stroke-width="4.2" stroke-linecap="butt"/>
<line x1="694.10" y1="635.00" x2="700.50" y2="635.00" stroke="#000" stroke-width="3.2" stroke-linecap="butt"/>
<text transform="translate(690.70,640.20) scale(1.1,1)" font-size="15.5" text-anchor="end" font-weight="bold">0</text>
<line x1="694.10" y1="564.53" x2="700.50" y2="564.53" stroke="#000" stroke-width="3.2" stroke-linecap="butt"/>
<text transform="translate(690.70,569.73) scale(1.1,1)" font-size="15.5" text-anchor="end" font-weight="bold">100</text>
<line x1="694.10" y1="494.07" x2="700.50" y2="494.07" stroke="#000" stroke-width="3.2" stroke-linecap="butt"/>
<text transform="translate(690.70,499.27) scale(1.1,1)" font-size="15.5" text-anchor="end" font-weight="bold">200</text>
<line x1="694.10" y1="423.60" x2="700.50" y2="423.60" stroke="#000" stroke-width="3.2" stroke-linecap="butt"/>
<text transform="translate(690.70,428.80) scale(1.1,1)" font-size="15.5" text-anchor="end" font-weight="bold">300</text>
<line x1="724.40" y1="635.00" x2="724.40" y2="641.00" stroke="#000" stroke-width="3.4" stroke-linecap="butt"/>
<text transform="translate(724.40,657.60) scale(1.1,1)" font-size="15.5" text-anchor="middle" font-weight="bold">2</text>
<line x1="780.45" y1="635.00" x2="780.45" y2="641.00" stroke="#000" stroke-width="3.4" stroke-linecap="butt"/>
<text transform="translate(780.45,657.60) scale(1.1,1)" font-size="15.5" text-anchor="middle" font-weight="bold">4</text>
<line x1="836.50" y1="635.00" x2="836.50" y2="641.00" stroke="#000" stroke-width="3.4" stroke-linecap="butt"/>
<text transform="translate(836.50,657.60) scale(1.1,1)" font-size="15.5" text-anchor="middle" font-weight="bold">6</text>
<line x1="892.55" y1="635.00" x2="892.55" y2="641.00" stroke="#000" stroke-width="3.4" stroke-linecap="butt"/>
<text transform="translate(892.55,657.60) scale(1.1,1)" font-size="15.5" text-anchor="middle" font-weight="bold">8</text>
<line x1="948.60" y1="635.00" x2="948.60" y2="641.00" stroke="#000" stroke-width="3.4" stroke-linecap="butt"/>
<text transform="translate(948.60,657.60) scale(1.1,1)" font-size="15.5" text-anchor="middle" font-weight="bold">12</text>
<line x1="1004.65" y1="635.00" x2="1004.65" y2="641.00" stroke="#000" stroke-width="3.4" stroke-linecap="butt"/>
<text transform="translate(1004.65,657.60) scale(1.1,1)" font-size="15.5" text-anchor="middle" font-weight="bold">24</text>
<text transform="translate(657.10,529.90) rotate(-90)" font-size="19" text-anchor="middle" font-weight="bold">Leucine (&#956;g/ml)</text>
<text transform="translate(866.02,687.70) scale(1.1,1)" font-size="17" text-anchor="middle" font-weight="bold">Time (h)</text>
<line x1="1216.90" y1="573.40" x2="1216.90" y2="576.09" stroke="#000" stroke-width="1.6" stroke-linecap="butt"/>
<line x1="1213.30" y1="573.40" x2="1220.50" y2="573.40" stroke="#000" stroke-width="1.8" stroke-linecap="butt"/>
<rect x="1210.10" y="576.09" width="13.60" height="59.11" fill="#000"/>
<line x1="1237.90" y1="580.80" x2="1237.90" y2="583.50" stroke="#000" stroke-width="1.6" stroke-linecap="butt"/>
<line x1="1234.30" y1="580.80" x2="1241.50" y2="580.80" stroke="#000" stroke-width="1.8" stroke-linecap="butt"/>
<rect x="1231.10" y="583.50" width="13.60" height="51.70" fill="#a0a0a4"/>
<line x1="1272.00" y1="568.40" x2="1272.00" y2="574.19" stroke="#000" stroke-width="1.6" stroke-linecap="butt"/>
<line x1="1268.40" y1="568.40" x2="1275.60" y2="568.40" stroke="#000" stroke-width="1.8" stroke-linecap="butt"/>
<rect x="1265.20" y="574.19" width="13.60" height="61.01" fill="#000"/>
<line x1="1293.00" y1="569.50" x2="1293.00" y2="570.87" stroke="#000" stroke-width="1.6" stroke-linecap="butt"/>
<line x1="1289.40" y1="569.50" x2="1296.60" y2="569.50" stroke="#000" stroke-width="1.8" stroke-linecap="butt"/>
<rect x="1286.20" y="570.87" width="13.60" height="64.33" fill="#a0a0a4"/>
<line x1="1327.10" y1="559.40" x2="1327.10" y2="562.06" stroke="#000" stroke-width="1.6" stroke-linecap="butt"/>
<line x1="1323.50" y1="559.40" x2="1330.70" y2="559.40" stroke="#000" stroke-width="1.8" stroke-linecap="butt"/>
<rect x="1320.30" y="562.06" width="13.60" height="73.14" fill="#000"/>
<line x1="1348.10" y1="574.70" x2="1348.10" y2="576.66" stroke="#000" stroke-width="1.6" stroke-linecap="butt"/>
<line x1="1344.50" y1="574.70" x2="1351.70" y2="574.70" stroke="#000" stroke-width="1.8" stroke-linecap="butt"/>
<rect x="1341.30" y="576.66" width="13.60" height="58.54" fill="#a0a0a4"/>
<text x="1348.10" y="572.50" font-size="20" text-anchor="middle" font-weight="bold" style="font-family:'Liberation Sans',sans-serif">*</text>
<line x1="1382.20" y1="463.50" x2="1382.20" y2="471.42" stroke="#000" stroke-width="1.6" stroke-linecap="butt"/>
<line x1="1378.60" y1="463.50" x2="1385.80" y2="463.50" stroke="#000" stroke-width="1.8" stroke-linecap="butt"/>
<rect x="1375.40" y="471.42" width="13.60" height="163.78" fill="#000"/>
<line x1="1403.20" y1="533.50" x2="1403.20" y2="537.16" stroke="#000" stroke-width="1.6" stroke-linecap="butt"/>
<line x1="1399.60" y1="533.50" x2="1406.80" y2="533.50" stroke="#000" stroke-width="1.8" stroke-linecap="butt"/>
<rect x="1396.40" y="537.16" width="13.60" height="98.04" fill="#a0a0a4"/>
<text x="1403.20" y="531.30" font-size="20" text-anchor="middle" font-weight="bold" style="font-family:'Liberation Sans',sans-serif">*</text>
<line x1="1437.30" y1="536.20" x2="1437.30" y2="538.71" stroke="#000" stroke-width="1.6" stroke-linecap="butt"/>
<line x1="1433.70" y1="536.20" x2="1440.90" y2="536.20" stroke="#000" stroke-width="1.8" stroke-linecap="butt"/>
<rect x="1430.50" y="538.71" width="13.60" height="96.49" fill="#000"/>
<rect x="1451.50" y="541.81" width="13.60" height="93.39" fill="#a0a0a4"/>
<line x1="1492.40" y1="550.80" x2="1492.40" y2="556.13" stroke="#000" stroke-width="1.6" stroke-linecap="butt"/>
<line x1="1488.80" y1="550.80" x2="1496.00" y2="550.80" stroke="#000" stroke-width="1.8" stroke-linecap="butt"/>
<rect x="1485.60" y="556.13" width="13.60" height="79.07" fill="#000"/>
<line x1="1513.40" y1="577.50" x2="1513.40" y2="580.61" stroke="#000" stroke-width="1.6" stroke-linecap="butt"/>
<line x1="1509.80" y1="577.50" x2="1517.00" y2="577.50" stroke="#000" stroke-width="1.8" stroke-linecap="butt"/>
<rect x="1506.60" y="580.61" width="13.60" height="54.59" fill="#a0a0a4"/>
<text x="1513.40" y="575.30" font-size="20" text-anchor="middle" font-weight="bold" style="font-family:'Liberation Sans',sans-serif">*</text>
<line x1="1203.80" y1="422.00" x2="1203.80" y2="637.30" stroke="#000" stroke-width="4.2" stroke-linecap="butt"/>
<line x1="1197.40" y1="635.20" x2="1530.30" y2="635.20" stroke="#000" stroke-width="4.2" stroke-linecap="butt"/>
<line x1="1197.40" y1="635.20" x2="1203.80" y2="635.20" stroke="#000" stroke-width="3.2" stroke-linecap="butt"/>
<text transform="translate(1194.50,640.40) scale(1.1,1)" font-size="15.5" text-anchor="end" font-weight="bold">0</text>
<line x1="1197.40" y1="564.67" x2="1203.80" y2="564.67" stroke="#000" stroke-width="3.2" stroke-linecap="butt"/>
<text transform="translate(1194.50,569.87) scale(1.1,1)" font-size="15.5" text-anchor="end" font-weight="bold">100</text>
<line x1="1197.40" y1="494.13" x2="1203.80" y2="494.13" stroke="#000" stroke-width="3.2" stroke-linecap="butt"/>
<text transform="translate(1194.50,499.33) scale(1.1,1)" font-size="15.5" text-anchor="end" font-weight="bold">200</text>
<line x1="1197.40" y1="423.60" x2="1203.80" y2="423.60" stroke="#000" stroke-width="3.2" stroke-linecap="butt"/>
<text transform="translate(1194.50,428.80) scale(1.1,1)" font-size="15.5" text-anchor="end" font-weight="bold">300</text>
<line x1="1227.10" y1="635.20" x2="1227.10" y2="641.20" stroke="#000" stroke-width="3.4" stroke-linecap="butt"/>
<text transform="translate(1227.10,657.80) scale(1.1,1)" font-size="15.5" text-anchor="middle" font-weight="bold">2</text>
<line x1="1282.20" y1="635.20" x2="1282.20" y2="641.20" stroke="#000" stroke-width="3.4" stroke-linecap="butt"/>
<text transform="translate(1282.20,657.80) scale(1.1,1)" font-size="15.5" text-anchor="middle" font-weight="bold">4</text>
<line x1="1337.30" y1="635.20" x2="1337.30" y2="641.20" stroke="#000" stroke-width="3.4" stroke-linecap="butt"/>
<text transform="translate(1337.30,657.80) scale(1.1,1)" font-size="15.5" text-anchor="middle" font-weight="bold">6</text>
<line x1="1392.40" y1="635.20" x2="1392.40" y2="641.20" stroke="#000" stroke-width="3.4" stroke-linecap="butt"/>
<text transform="translate(1392.40,657.80) scale(1.1,1)" font-size="15.5" text-anchor="middle" font-weight="bold">8</text>
<line x1="1447.50" y1="635.20" x2="1447.50" y2="641.20" stroke="#000" stroke-width="3.4" stroke-linecap="butt"/>
<text transform="translate(1447.50,657.80) scale(1.1,1)" font-size="15.5" text-anchor="middle" font-weight="bold">12</text>
<line x1="1502.60" y1="635.20" x2="1502.60" y2="641.20" stroke="#000" stroke-width="3.4" stroke-linecap="butt"/>
<text transform="translate(1502.60,657.80) scale(1.1,1)" font-size="15.5" text-anchor="middle" font-weight="bold">24</text>
<text transform="translate(1160.40,530.00) rotate(-90)" font-size="19" text-anchor="middle" font-weight="bold">Leucine (&#956;g/ml)</text>
<text transform="translate(1366.35,687.70) scale(1.1,1)" font-size="17" text-anchor="middle" font-weight="bold">Time (h)</text>
<line x1="1693.00" y1="549.30" x2="1693.00" y2="553.99" stroke="#000" stroke-width="1.6" stroke-linecap="butt"/>
<line x1="1689.40" y1="549.30" x2="1696.60" y2="549.30" stroke="#000" stroke-width="1.8" stroke-linecap="butt"/>
<rect x="1686.20" y="553.99" width="13.60" height="81.61" fill="#000"/>
<line x1="1714.00" y1="580.70" x2="1714.00" y2="584.20" stroke="#000" stroke-width="1.6" stroke-linecap="butt"/>
<line x1="1710.40" y1="580.70" x2="1717.60" y2="580.70" stroke="#000" stroke-width="1.8" stroke-linecap="butt"/>
<rect x="1707.20" y="584.20" width="13.60" height="51.40" fill="#a0a0a4"/>
<text x="1714.00" y="578.50" font-size="20" text-anchor="middle" font-weight="bold" style="font-family:'Liberation Sans',sans-serif">*</text>
<line x1="1748.12" y1="555.10" x2="1748.12" y2="557.66" stroke="#000" stroke-width="1.6" stroke-linecap="butt"/>
<line x1="1744.52" y1="555.10" x2="1751.72" y2="555.10" stroke="#000" stroke-width="1.8" stroke-linecap="butt"/>
<rect x="1741.32" y="557.66" width="13.60" height="77.94" fill="#000"/>
<line x1="1769.12" y1="571.10" x2="1769.12" y2="575.59" stroke="#000" stroke-width="1.6" stroke-linecap="butt"/>
<line x1="1765.52" y1="571.10" x2="1772.72" y2="571.10" stroke="#000" stroke-width="1.8" stroke-linecap="butt"/>
<rect x="1762.32" y="575.59" width="13.60" height="60.01" fill="#a0a0a4"/>
<text x="1769.12" y="568.90" font-size="20" text-anchor="middle" font-weight="bold" style="font-family:'Liberation Sans',sans-serif">*</text>
<line x1="1803.24" y1="565.50" x2="1803.24" y2="567.47" stroke="#000" stroke-width="1.6" stroke-linecap="butt"/>
<line x1="1799.64" y1="565.50" x2="1806.84" y2="565.50" stroke="#000" stroke-width="1.8" stroke-linecap="butt"/>
<rect x="1796.44" y="567.47" width="13.60" height="68.13" fill="#000"/>
<line x1="1824.24" y1="580.00" x2="1824.24" y2="584.20" stroke="#000" stroke-width="1.6" stroke-linecap="butt"/>
<line x1="1820.64" y1="580.00" x2="1827.84" y2="580.00" stroke="#000" stroke-width="1.8" stroke-linecap="butt"/>
<rect x="1817.44" y="584.20" width="13.60" height="51.40" fill="#a0a0a4"/>
<text x="1824.24" y="577.80" font-size="20" text-anchor="middle" font-weight="bold" style="font-family:'Liberation Sans',sans-serif">*</text>
<line x1="1858.36" y1="496.50" x2="1858.36" y2="502.24" stroke="#000" stroke-width="1.6" stroke-linecap="butt"/>
<line x1="1854.76" y1="496.50" x2="1861.96" y2="496.50" stroke="#000" stroke-width="1.8" stroke-linecap="butt"/>
<rect x="1851.56" y="502.24" width="13.60" height="133.36" fill="#000"/>
<line x1="1879.36" y1="541.90" x2="1879.36" y2="546.29" stroke="#000" stroke-width="1.6" stroke-linecap="butt"/>
<line x1="1875.76" y1="541.90" x2="1882.96" y2="541.90" stroke="#000" stroke-width="1.8" stroke-linecap="butt"/>
<rect x="1872.56" y="546.29" width="13.60" height="89.31" fill="#a0a0a4"/>
<text x="1879.36" y="539.70" font-size="20" text-anchor="middle" font-weight="bold" style="font-family:'Liberation Sans',sans-serif">*</text>
<line x1="1913.48" y1="553.10" x2="1913.48" y2="554.48" stroke="#000" stroke-width="1.6" stroke-linecap="butt"/>
<line x1="1909.88" y1="553.10" x2="1917.08" y2="553.10" stroke="#000" stroke-width="1.8" stroke-linecap="butt"/>
<rect x="1906.68" y="554.48" width="13.60" height="81.12" fill="#000"/>
<line x1="1934.48" y1="572.60" x2="1934.48" y2="574.60" stroke="#000" stroke-width="1.6" stroke-linecap="butt"/>
<line x1="1930.88" y1="572.60" x2="1938.08" y2="572.60" stroke="#000" stroke-width="1.8" stroke-linecap="butt"/>
<rect x="1927.68" y="574.60" width="13.60" height="61.00" fill="#a0a0a4"/>
<text x="1934.48" y="570.40" font-size="20" text-anchor="middle" font-weight="bold" style="font-family:'Liberation Sans',sans-serif">*</text>
<line x1="1968.60" y1="554.00" x2="1968.60" y2="556.53" stroke="#000" stroke-width="1.6" stroke-linecap="butt"/>
<line x1="1965.00" y1="554.00" x2="1972.20" y2="554.00" stroke="#000" stroke-width="1.8" stroke-linecap="butt"/>
<rect x="1961.80" y="556.53" width="13.60" height="79.07" fill="#000"/>
<line x1="1989.60" y1="578.10" x2="1989.60" y2="582.79" stroke="#000" stroke-width="1.6" stroke-linecap="butt"/>
<line x1="1986.00" y1="578.10" x2="1993.20" y2="578.10" stroke="#000" stroke-width="1.8" stroke-linecap="butt"/>
<rect x="1982.80" y="582.79" width="13.60" height="52.81" fill="#a0a0a4"/>
<text x="1989.60" y="575.90" font-size="20" text-anchor="middle" font-weight="bold" style="font-family:'Liberation Sans',sans-serif">*</text>
<line x1="1679.00" y1="422.20" x2="1679.00" y2="637.70" stroke="#000" stroke-width="4.2" stroke-linecap="butt"/>
<line x1="1672.60" y1="635.60" x2="2007.00" y2="635.60" stroke="#000" stroke-width="4.2" stroke-linecap="butt"/>
<line x1="1672.60" y1="635.60" x2="1679.00" y2="635.60" stroke="#000" stroke-width="3.2" stroke-linecap="butt"/>
<text transform="translate(1669.80,640.80) scale(1.1,1)" font-size="15.5" text-anchor="end" font-weight="bold">0</text>
<line x1="1672.60" y1="565.00" x2="1679.00" y2="565.00" stroke="#000" stroke-width="3.2" stroke-linecap="butt"/>
<text transform="translate(1669.80,570.20) scale(1.1,1)" font-size="15.5" text-anchor="end" font-weight="bold">100</text>
<line x1="1672.60" y1="494.40" x2="1679.00" y2="494.40" stroke="#000" stroke-width="3.2" stroke-linecap="butt"/>
<text transform="translate(1669.80,499.60) scale(1.1,1)" font-size="15.5" text-anchor="end" font-weight="bold">200</text>
<line x1="1672.60" y1="423.80" x2="1679.00" y2="423.80" stroke="#000" stroke-width="3.2" stroke-linecap="butt"/>
<text transform="translate(1669.80,429.00) scale(1.1,1)" font-size="15.5" text-anchor="end" font-weight="bold">300</text>
<line x1="1703.20" y1="635.60" x2="1703.20" y2="641.60" stroke="#000" stroke-width="3.4" stroke-linecap="butt"/>
<text transform="translate(1703.20,658.20) scale(1.1,1)" font-size="15.5" text-anchor="middle" font-weight="bold">2</text>
<line x1="1758.32" y1="635.60" x2="1758.32" y2="641.60" stroke="#000" stroke-width="3.4" stroke-linecap="butt"/>
<text transform="translate(1758.32,658.20) scale(1.1,1)" font-size="15.5" text-anchor="middle" font-weight="bold">4</text>
<line x1="1813.44" y1="635.60" x2="1813.44" y2="641.60" stroke="#000" stroke-width="3.4" stroke-linecap="butt"/>
<text transform="translate(1813.44,658.20) scale(1.1,1)" font-size="15.5" text-anchor="middle" font-weight="bold">6</text>
<line x1="1868.56" y1="635.60" x2="1868.56" y2="641.60" stroke="#000" stroke-width="3.4" stroke-linecap="butt"/>
<text transform="translate(1868.56,658.20) scale(1.1,1)" font-size="15.5" text-anchor="middle" font-weight="bold">8</text>
<line x1="1923.68" y1="635.60" x2="1923.68" y2="641.60" stroke="#000" stroke-width="3.4" stroke-linecap="butt"/>
<text transform="translate(1923.68,658.20) scale(1.1,1)" font-size="15.5" text-anchor="middle" font-weight="bold">12</text>
<line x1="1978.80" y1="635.60" x2="1978.80" y2="641.60" stroke="#000" stroke-width="3.4" stroke-linecap="butt"/>
<text transform="translate(1978.80,658.20) scale(1.1,1)" font-size="15.5" text-anchor="middle" font-weight="bold">24</text>
<text transform="translate(1635.60,530.30) rotate(-90)" font-size="19" text-anchor="middle" font-weight="bold">Leucine (&#956;g/ml)</text>
<text transform="translate(1842.50,687.70) scale(1.1,1)" font-size="17" text-anchor="middle" font-weight="bold">Time (h)</text>
</svg>
</body></html>
